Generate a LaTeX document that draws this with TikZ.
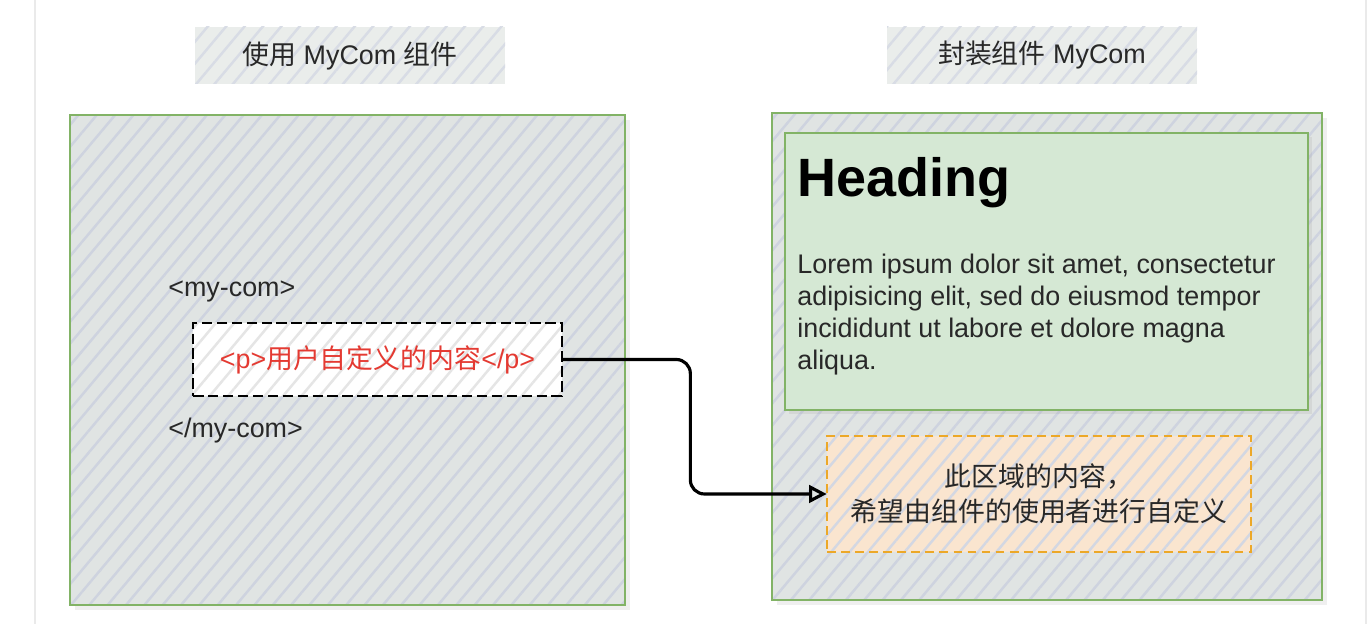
\documentclass[tikz,border=0pt]{standalone}
\usepackage{fontspec}
\setmainfont{Liberation Sans}
\newfontfamily\cjk{Noto Sans CJK SC}
\usepackage{xcolor}
\usetikzlibrary{arrows.meta,positioning,patterns.meta,shadows}

\definecolor{boxgreen}{RGB}{130,179,102}
\definecolor{panelfill}{RGB}{224,228,227}
\definecolor{hatchgrey}{RGB}{206,211,223}
\definecolor{headfill}{RGB}{213,232,212}
\definecolor{peach}{RGB}{250,229,207}
\definecolor{orangeline}{RGB}{236,168,40}
\definecolor{titlefill}{RGB}{234,237,235}
\definecolor{textgrey}{RGB}{40,40,40}
\definecolor{textred}{RGB}{228,58,50}
\definecolor{framegrey}{RGB}{234,234,234}

\begin{document}
\begin{tikzpicture}[
  every node/.style={font=\fontsize{15.3}{18.2}\selectfont, text=textgrey},
  hatch/.style={postaction={pattern={Lines[angle=50,distance=8pt,line width=1.4pt]}, pattern color=#1}},
  panel/.style={fill=panelfill, hatch=hatchgrey,
    postaction={draw=boxgreen, line width=1.3pt},
    drop shadow={shadow xshift=3pt, shadow yshift=-3pt, opacity=.12}},
  title/.style={fill=titlefill, hatch=hatchgrey!80, minimum width=6.2cm, minimum height=1.14cm},
  slotbox/.style={fill=white, hatch=gray!20,
    postaction={draw=black, line width=1.2pt, dash pattern=on 6pt off 2.5pt},
    minimum width=7.38cm, minimum height=1.46cm},
  areabox/.style={fill=peach, hatch=hatchgrey!90,
    postaction={draw=orangeline, line width=1.3pt, dash pattern=on 5pt off 3pt},
    minimum width=8.48cm, minimum height=2.32cm,
    align=center, font=\cjk\fontsize{15.3}{19.9}\selectfont},
  conn/.style={black, line width=1.8pt, rounded corners=8pt,
    -{Triangle[open, length=10pt, width=10pt]}},
]

%% ── Canvas and page frame ──────────────────────────────────────────────────
\fill[white] (0,0) rectangle (27.42,12.48);
\useasboundingbox (0,0) rectangle (27.42,12.48);
\draw[framegrey, line width=1pt] (0.70,0) -- (0.70,12.48);
\draw[framegrey, line width=1pt] (27.32,0) -- (27.32,12.48);

%% ── Titles ──────────────────────────────────────────────────────────────────
\node[title] (usetitle) at (7.00, 11.37) {{\cjk 使用} MyCom {\cjk 组件}};
\node[title] (wraptitle) at (20.84, 11.37) {{\cjk 封装组件} MyCom};

%% ── Left panel: using the component ────────────────────────────────────────
\node[panel, minimum width=11.10cm, minimum height=9.80cm] (usepanel) at (6.95, 5.28) {};
\node[anchor=base west, inner sep=0] (opentag) at (3.36, 6.54) {<my-com>};
\node[slotbox] (slot) at (7.55, 5.29)
  {\textcolor{textred}{<p>{\cjk 用户自定义的内容}</p>}};
\node[anchor=base west, inner sep=0] (closetag) at (3.36, 3.72) {</my-com>};

%% ── Right panel: the component itself ──────────────────────────────────────
\node[panel, minimum width=11.00cm, minimum height=9.74cm] (wrappanel) at (20.94, 5.35) {};
\node[draw=boxgreen, line width=1.1pt, fill=headfill,
      minimum width=10.46cm, minimum height=5.54cm,
      drop shadow={shadow xshift=2pt, shadow yshift=-2pt, opacity=.12}] (headbox) at (20.93, 7.05) {};
\node[anchor=base west, inner sep=0, text=black,
      font=\bfseries\fontsize{30.7}{36}\selectfont] (heading) at (15.94, 8.54) {Heading};
\node[anchor=north west, align=left, inner sep=0] (lorem) at (15.94, 7.41)
  {Lorem ipsum dolor sit amet, consectetur\\
   adipisicing elit, sed do eiusmod tempor\\
   incididunt ut labore et dolore magna\\
   aliqua.};
\node[areabox] (area) at (20.78, 2.60)
  {此区域的内容，\\希望由组件的使用者进行自定义};

%% ── Slot connector ──────────────────────────────────────────────────────────
\draw[conn] (slot.east) -- ++(2.56,0) |- (area.west);

\end{tikzpicture}
\end{document}
